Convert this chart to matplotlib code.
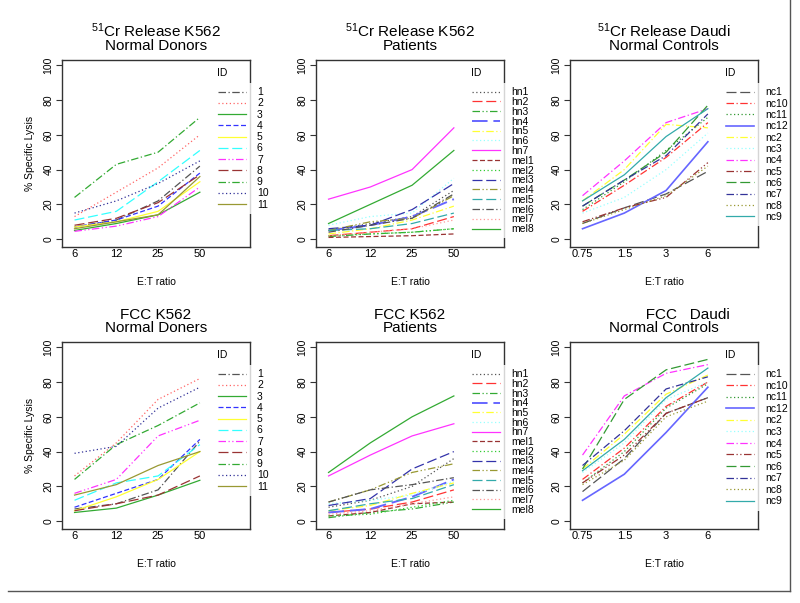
import numpy as np
import matplotlib
matplotlib.use("Agg")
import matplotlib.pyplot as plt
from matplotlib.lines import Line2D

plt.rcParams['font.family'] = ['Liberation Sans', 'DejaVu Sans']
plt.rcParams['mathtext.default'] = 'regular'

# ---------------- data ----------------
et_k562 = ['6', '12', '25', '50']
et_daudi = ['0.75', '1.5', '3', '6']

donor_ids = ['1', '2', '3', '4', '5', '6', '7', '8', '9', '10', '11']
patient_ids = ['hn1', 'hn2', 'hn3', 'hn4', 'hn5', 'hn6', 'hn7',
               'mel1', 'mel2', 'mel3', 'mel4', 'mel5', 'mel6', 'mel7', 'mel8']
control_ids = ['nc1', 'nc10', 'nc11', 'nc12', 'nc2', 'nc3', 'nc4',
               'nc5', 'nc6', 'nc7', 'nc8', 'nc9']

cr_k562_donors = [
    [7, 11, 22, 42],
    [13, 27, 41, 60],
    [5, 9, 14, 27],
    [7, 11, 19, 38],
    [7, 10, 16, 33],
    [11, 16, 33, 51],
    [4.5, 7.5, 13, 30],
    [8, 12, 21, 37],
    [24, 43, 50, 70],
    [15, 22, 32, 45],
    [6, 10, 14, 36],
]

cr_k562_patients = [
    [5, 9, 13, 28],
    [2, 4, 6, 13],
    [1.5, 3, 4, 6],
    [5, 8, 13, 23],
    [3, 6, 11, 19],
    [8, 13, 15, 35],
    [23, 30, 40, 64],
    [1, 1.5, 2, 3],
    [2, 3, 4, 6],
    [6, 8, 17, 32],
    [5, 10, 12, 25],
    [5, 6, 9, 15],
    [4, 8, 12, 26],
    [2, 4, 6, 11],
    [9, 20, 31, 51],
]

cr_daudi_controls = [
    [9, 18, 26, 39],
    [16, 31, 47, 67],
    [17, 33, 51, 70],
    [6, 15, 28, 56],
    [22, 40, 66, 64],
    [15, 24, 40, 61],
    [25, 45, 67, 75],
    [10, 18, 24, 44],
    [19, 34, 50, 77],
    [19, 34, 48, 72],
    [9, 17, 25, 42],
    [22, 37, 59, 75],
]

fcc_k562_donors = [
    [7, 10, 18, 46],
    [26, 45, 70, 82],
    [5, 7.5, 15, 23.5],
    [8, 16, 24, 47],
    [6, 14, 24, 40],
    [12, 22, 26, 44],
    [16, 24, 49, 58],
    [6, 10, 15, 26],
    [24, 44, 55, 68],
    [39, 43, 65, 77],
    [15, 21, 32, 40],
]

fcc_k562_patients = [
    [8, 12, 20, 36],
    [5, 7, 11, 18],
    [2, 5, 7, 11],
    [5, 7, 14, 24],
    [6, 9, 16, 22],
    [10, 12, 15, 23],
    [26, 38, 49, 56],
    [3, 5, 10, 11],
    [3, 4, 8, 12],
    [9, 13, 30, 40],
    [11, 18, 28, 33],
    [6, 10, 13, 21],
    [11, 18, 21, 25],
    [4, 6, 10, 14],
    [28, 45, 60, 72],
]

fcc_daudi_controls = [
    [17, 36, 62, 71],
    [24, 42, 66, 80],
    [22, 40, 65, 79],
    [12, 27, 51, 77],
    [30, 50, 73, 84],
    [28, 45, 70, 80],
    [38, 72, 85, 90],
    [22, 38, 62, 71],
    [30, 70, 87, 93],
    [32, 52, 76, 83],
    [21, 35, 60, 69],
    [29, 47, 71, 88],
]

# ---------------- styles ----------------
DD = (0, (6, 2, 1, 2))          # dash-dot
DDD = (0, (6, 2, 1, 2, 1, 2))   # dash-dot-dot
DOT = (0, (1, 2))
DASH = (0, (4, 2))
LDASH = (0, (8, 3))

donor_styles = [
    ('#555555', DD, 0.9), ('#ff6666', DOT, 0.9), ('#33aa33', '-', 0.9),
    ('#3333ff', DASH, 0.9), ('#ffff33', '-', 0.9), ('#33ffff', LDASH, 0.9),
    ('#ff33ff', DDD, 0.9), ('#993333', LDASH, 0.9), ('#33aa33', DD, 0.9),
    ('#333399', DOT, 0.9), ('#999933', '-', 0.9),
]
patient_styles = [
    ('#555555', DOT, 0.9), ('#ff3333', LDASH, 0.9), ('#33aa33', DDD, 0.9),
    ('#6666ff', LDASH, 1.4), ('#ffff33', DD, 0.9), ('#99ffff', DOT, 0.9),
    ('#ff33ff', '-', 0.9), ('#993333', DASH, 0.9), ('#33cc33', DOT, 0.9),
    ('#3333aa', LDASH, 0.9), ('#999933', DDD, 0.9), ('#33aaaa', LDASH, 0.9),
    ('#555555', DD, 0.9), ('#ff9999', DOT, 0.9), ('#33aa33', '-', 0.9),
]
control_styles = [
    ('#555555', LDASH, 0.9), ('#ff3333', DD, 0.9), ('#339933', DOT, 0.9),
    ('#6666ff', '-', 1.2), ('#ffff33', DD, 0.9), ('#99ffff', DOT, 0.9),
    ('#ff33ff', DD, 0.9), ('#993333', DDD, 0.9), ('#339933', LDASH, 0.9),
    ('#333399', DD, 0.9), ('#999933', DOT, 0.9), ('#33aaaa', '-', 0.9),
]

panels = [
    (r'$^{51}$Cr Release K562' + '\nNormal Donors', et_k562, donor_ids, cr_k562_donors, donor_styles, True, 0.12),
    (r'$^{51}$Cr Release K562' + '\nPatients', et_k562, patient_ids, cr_k562_patients, patient_styles, False, -0.02),
    (r'$^{51}$Cr Release Daudi' + '\nNormal Controls', et_daudi, control_ids, cr_daudi_controls, control_styles, False, 0.13),
    ('FCC K562\nNormal Doners', et_k562, donor_ids, fcc_k562_donors, donor_styles, True, 0.12),
    ('FCC K562\nPatients', et_k562, patient_ids, fcc_k562_patients, patient_styles, False, -0.03),
    ('           FCC   Daudi\nNormal Controls', et_daudi, control_ids, fcc_daudi_controls, control_styles, False, 0.15),
]

W, H = 800, 603
fig = plt.figure(figsize=(8, 6.03), dpi=100)

lefts = [62, 316, 570]
tops = [60, 342]
aw, ah = 188, 187

for i, (title, xt, ids, data, styles, ylab, lsp) in enumerate(panels):
    r, c = divmod(i, 3)
    l = lefts[c]
    t = tops[r]
    ax = fig.add_axes([l / W, 1 - (t + ah) / H, aw / W, ah / H])
    x = np.arange(1, len(xt) + 1)
    for name, vals, (col, ls, lw) in zip(ids, data, styles):
        ax.plot(x, vals, color=col, linestyle=ls, linewidth=lw, label=name)
    ax.set_xlim(0.7, 5.2)
    ax.set_ylim(-4.5, 103)
    ax.set_xticks(x)
    ax.set_xticklabels(xt, fontsize=8)
    ax.set_yticks([0, 20, 40, 60, 80, 100])
    ax.set_yticklabels(['0', '20', '40', '60', '80', '100'], fontsize=7.5,
                       rotation=90, va='center')
    ax.tick_params(axis='x', length=0, pad=1.5)
    ax.tick_params(axis='y', length=4, width=0.8, pad=2, color='#333333')
    for s in ax.spines.values():
        s.set_linewidth(1.0)
        s.set_color('#333333')
    ax.set_title(title, fontsize=11, linespacing=0.95, pad=7)
    ax.set_xlabel('E:T ratio', fontsize=7.5, labelpad=13)
    if ylab:
        ax.set_ylabel('% Specific Lysis', fontsize=7.5, labelpad=6)
    leg = ax.legend(loc='upper left', bbox_to_anchor=(0.81, 0.877),
                    borderaxespad=0, frameon=True, fontsize=7.5,
                    handlelength=2.6, handletextpad=1.1, labelspacing=lsp,
                    borderpad=0.4, fancybox=False)
    leg.get_frame().set_facecolor('white')
    leg.get_frame().set_edgecolor('white')
    leg.get_frame().set_linewidth(0)
    ax.text(0.823, 0.93, 'ID', transform=ax.transAxes, fontsize=7.5,
            ha='left', va='center')

# figure border (right and bottom)
fig.add_artist(Line2D([790 / W, 790 / W], [1, 1 - 591 / H], color='#555555', lw=1))
fig.add_artist(Line2D([8 / W, 790 / W], [1 - 591 / H, 1 - 591 / H], color='#555555', lw=1))

fig.savefig('out.png', dpi=100)
